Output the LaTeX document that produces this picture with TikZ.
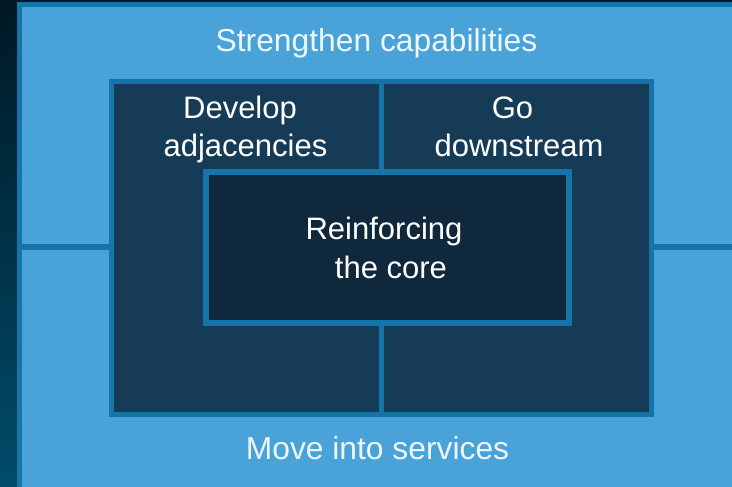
\documentclass[tikz,border=0pt]{standalone}
\usepackage{fontspec}
\setmainfont{Liberation Sans}
\definecolor{bgtop}{RGB}{0,24,36}
\definecolor{bgbot}{RGB}{0,76,106}
\definecolor{lightfill}{RGB}{74,163,216}
\definecolor{edgeblue}{RGB}{22,117,168}
\definecolor{innerfill}{RGB}{22,59,86}
\definecolor{corefill}{RGB}{15,40,59}
\definecolor{lighttext}{RGB}{236,246,252}
\begin{document}
\begin{tikzpicture}[x=1pt,y=-1pt,
  panel/.style={draw=edgeblue,rectangle,inner sep=0pt,outer sep=0pt,line width=5.5pt},
  sep/.style={draw=edgeblue,line width=6pt},
  lbl/.style={anchor=base,inner sep=0pt,font=\fontsize{31}{38}\selectfont},
  lbllight/.style={lbl,text=lighttext,font=\fontsize{31.8}{38}\selectfont},
  lbldark/.style={lbl,text=white}]
\useasboundingbox (0,0) rectangle (732,487);
\shade[top color=bgtop,bottom color=bgbot] (0,0) rectangle (732,487);
% outer light panel (extends beyond right and bottom edges)
\node[panel,fill=lightfill,line width=4.8pt,minimum width=740.5pt,minimum height=485.5pt] (outer) at (389.75,247.25) {};
% inner dark panel
\node[panel,fill=innerfill,minimum width=540pt,minimum height=333pt] (inner) at (381.5,248) {};
% side separators
\draw[sep] (outer.west) -- (outer.west -| inner.west);
\draw[sep] (inner.east |- outer.east) -- (outer.east);
% redraw inner border over separator ends
\node[panel,minimum width=540pt,minimum height=333pt] (innerb) at (381.5,248) {};
% vertical divider
\draw[sep,line width=5.5pt] (inner.north) -- (inner.south);
% core panel
\node[panel,fill=corefill,minimum width=363pt,minimum height=151pt] (core) at (387.5,247.5) {};
% labels
\node[lbllight] (strength) at (376.5,51.5) {Strengthen capabilities};
\node[lbldark] (dev1) at (240,118) {Develop};
\node[lbldark] (dev2) at (245.5,156.5) {adjacencies};
\node[lbldark] (go1) at (512.5,118) {Go};
\node[lbldark] (go2) at (519,156.5) {downstream};
\node[lbldark] (core1) at (384,239) {Reinforcing};
\node[lbldark] (core2) at (391,278.5) {the core};
\node[lbllight] (move) at (377.5,459.5) {Move into services};
\end{tikzpicture}
\end{document}
